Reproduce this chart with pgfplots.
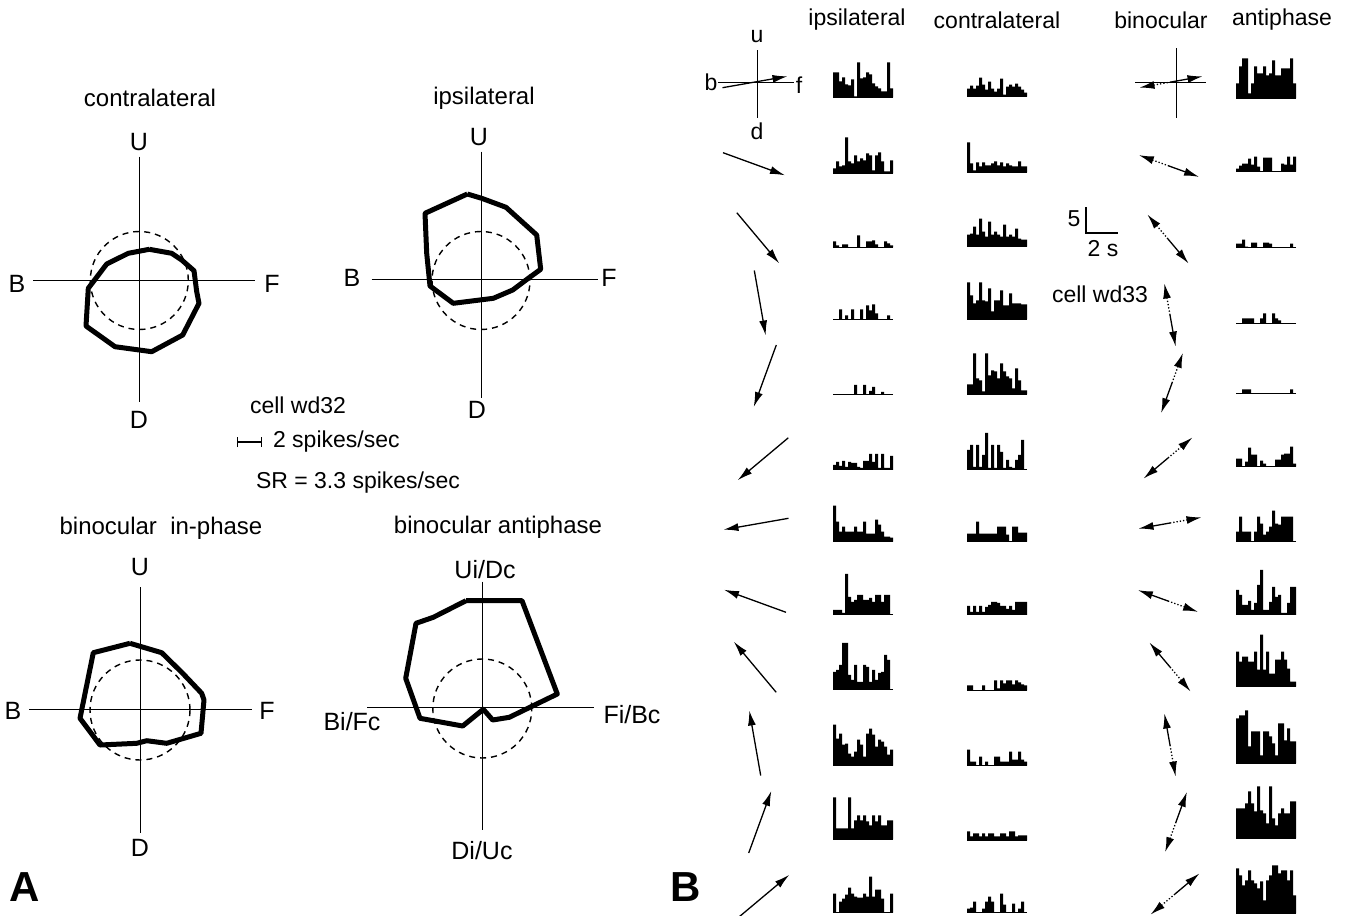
\documentclass[border=0pt]{standalone}
\usepackage{pgfplots}
\pgfplotsset{compat=1.18}
\usepackage{fontspec}
\setmainfont{Liberation Sans}
\usetikzlibrary{arrows.meta}

\pgfplotsset{histax/.style={anchor=south west, scale only axis, x=1.5pt, y=0.5pt,
  xmin=0, xmax=20, ymin=0, ymax=60, hide axis, clip=false}}
% #1 = left edge (px), #2 = baseline (px), #3 = bin heights (px)
\newcommand{\hist}[3]{%
\begin{axis}[histax, at={({#1*0.5pt},{(916-#2)*0.5pt})}]
\addplot[ybar interval, fill=black, draw=none] table[x expr=\coordindex, y=h, row sep=\\] {h\\#3\\0\\};
\addplot[black, line width=0.5pt] coordinates {(0,0) (20,0)};
\end{axis}}

\tikzset{
 tit/.style={font=\fontsize{12}{14}\selectfont},
 lab/.style={font=\fontsize{12.5}{14}\selectfont},
 txt/.style={font=\fontsize{11.5}{13}\selectfont},
 big/.style={font=\fontsize{21}{23}\selectfont\bfseries},
 arr/.style={black, line width=0.65pt, -{Latex[length=7.5pt,width=4pt]}},
 darr/.style={black, line width=0.65pt, densely dotted, -{Latex[length=7.5pt,width=4pt]}},
 ax/.style={black, line width=0.5pt},
 poly/.style={black, line width=2.5pt, line join=round},
 sr/.style={black, line width=0.7pt, dash pattern=on 3pt off 2.5pt}
}

\begin{document}
\begin{tikzpicture}
\begin{axis}[at={(0,0)}, anchor=south west, scale only axis, width=672.5pt, height=458pt,
  xmin=0, xmax=1345, ymin=0, ymax=916, y dir=reverse, hide axis, clip=false]

% ---------- Panel A: contralateral ----------
\node[tit] at (axis cs:150,98) {contralateral};
\addplot[ax] coordinates {(139.3,156.7) (139.3,401.7)};
\addplot[ax] coordinates {(33.3,280) (255,280)};
\node[lab] at (axis cs:139,142) {U};
\node[lab] at (axis cs:17,284) {B};
\node[lab] at (axis cs:272,284) {F};
\node[lab] at (axis cs:139,420) {D};
\draw[sr] (axis cs:139.3,280.5) circle[radius=24.5pt];
\addplot[poly] coordinates {(149.3,249.3) (171.7,253.3) (181.7,260) (194,270.7) (196.7,291.7) (199,303.3) (182.7,335) (151.7,351.7) (115,346.7) (86,326) (88.3,288.3) (106.7,264) (128.3,253.3) (149.3,249.3)};

% ---------- Panel A: ipsilateral ----------
\node[tit] at (axis cs:484,98) {ipsilateral};
\addplot[ax] coordinates {(481,151.7) (481,398.3)};
\addplot[ax] coordinates {(371.7,279.3) (598.3,279.3)};
\node[lab] at (axis cs:479,137) {U};
\node[lab] at (axis cs:352,278) {B};
\node[lab] at (axis cs:609,278) {F};
\node[lab] at (axis cs:477,410) {D};
\draw[sr] (axis cs:481,280.5) circle[radius=24.5pt];
\addplot[poly] coordinates {(467.3,194) (481.7,198.3) (506,207.3) (536.7,235) (540.7,269.3) (528.3,278.3) (512.7,290) (493.3,298.3) (453.3,303.3) (430,286) (426.7,253.3) (425,213.3) (467.3,194)};

% ---------- Panel A: legend text ----------
\node[txt] at (axis cs:298,405) {cell wd32};
\addplot[black, line width=0.6pt, {Bar[width=5pt]}-{Bar[width=5pt]}] coordinates {(237,442) (262,442)};
\node[txt, anchor=west] at (axis cs:266,442) {2 spikes/sec};
\node[txt] at (axis cs:358,483) {SR = 3.3 spikes/sec};

% ---------- Panel A: binocular in-phase ----------
\node[tit] at (axis cs:161,528) {binocular\ \ in-phase};
\addplot[ax] coordinates {(140.7,587.3) (140.7,833.3)};
\addplot[ax] coordinates {(29.3,709.3) (251.7,709.3)};
\node[lab] at (axis cs:140,567) {U};
\node[lab] at (axis cs:13,711) {B};
\node[lab] at (axis cs:267,711) {F};
\node[lab] at (axis cs:140,848) {D};
\draw[sr] (axis cs:140,710) circle[radius=25pt];
\addplot[poly] coordinates {(130,643.3) (161.7,652.7) (182.7,673.3) (201.7,693.3) (204,700) (201,733.3) (166.7,743.3) (146.7,740.7) (136.7,743.3) (100,745) (80,718.3) (93.3,652.7) (130,643.3)};

% ---------- Panel A: binocular antiphase ----------
\node[tit] at (axis cs:498,527) {binocular antiphase};
\addplot[ax] coordinates {(482.3,581.7) (482.3,830)};
\addplot[ax] coordinates {(367.3,707.3) (594,707.3)};
\node[lab] at (axis cs:485,570) {Ui/Dc};
\node[lab] at (axis cs:352,722) {Bi/Fc};
\node[lab] at (axis cs:632,715) {Fi/Bc};
\node[lab] at (axis cs:482,851) {Di/Uc};
\draw[sr] (axis cs:482.3,708.5) circle[radius=24.75pt];
\addplot[poly] coordinates {(466,600.7) (522,600.7) (557.3,694) (509.3,717.3) (492.7,720) (483.3,709.3) (462.7,726) (420,718.3) (405.7,678.3) (416,623.3) (433.3,617.3) (466,600.7)};

\node[big] at (axis cs:25,887) {A};
\node[big] at (axis cs:686,887) {B};

% ---------- Panel B: headers ----------
\node[txt] at (axis cs:857,20) {ipsilateral};
\node[txt] at (axis cs:997,20) {contralateral};
\node[txt] at (axis cs:1161,20) {binocular};
\node[txt] at (axis cs:1282,20) {antiphase};

% direction key
\addplot[ax] coordinates {(757,50) (757,118)};
\addplot[ax] coordinates {(718,82) (794,82)};
\node[txt] at (axis cs:757,37) {u};
\node[txt] at (axis cs:711,82) {b};
\node[txt] at (axis cs:799,85) {f};
\node[txt] at (axis cs:757,131) {d};
\addplot[ax] coordinates {(1176,48) (1176,118)};
\addplot[ax] coordinates {(1135,82) (1206,82)};

% monocular stimulus directions
\addplot[arr] coordinates {(722.5,87.7) (787.5,76.3)};
\addplot[arr] coordinates {(723,152.7) (785,175.3)};
\addplot[arr] coordinates {(736.8,212.7) (779.2,263.3)};
\addplot[arr] coordinates {(754.3,270.5) (765.7,335.5)};
\addplot[arr] coordinates {(776.3,345) (753.7,407)};
\addplot[arr] coordinates {(788.3,437.8) (737.7,480.2)};
\addplot[arr] coordinates {(788.5,518.3) (723.5,529.7)};
\addplot[arr] coordinates {(786,612.3) (724,589.7)};
\addplot[arr] coordinates {(776.2,692.3) (733.8,641.7)};
\addplot[arr] coordinates {(760.7,775.5) (749.3,710.5)};
\addplot[arr] coordinates {(748.7,853) (771.3,791)};
\addplot[arr] coordinates {(738.7,917.2) (789.3,874.8)};

% binocular antiphase directions (solid = ipsi, dotted = contra)
\addplot[arr] coordinates {(1171,82) (1202.5,76.4)};
\addplot[darr] coordinates {(1171,82) (1139.5,87.6)};
\addplot[arr] coordinates {(1169,166) (1199.1,176.9)};
\addplot[darr] coordinates {(1169,166) (1138.9,155.1)};
\addplot[arr] coordinates {(1168,239) (1188.6,263.5)};
\addplot[darr] coordinates {(1168,239) (1147.4,214.5)};
\addplot[arr] coordinates {(1170,315) (1175.6,346.5)};
\addplot[darr] coordinates {(1170,315) (1164.4,283.5)};
\addplot[arr] coordinates {(1172,383) (1161.1,413.1)};
\addplot[darr] coordinates {(1172,383) (1182.9,352.9)};
\addplot[arr] coordinates {(1168,458) (1143.5,478.6)};
\addplot[darr] coordinates {(1168,458) (1192.5,437.4)};
\addplot[arr] coordinates {(1170,523) (1138.5,528.6)};
\addplot[darr] coordinates {(1170,523) (1201.5,517.4)};
\addplot[arr] coordinates {(1168,601) (1137.9,590.1)};
\addplot[darr] coordinates {(1168,601) (1198.1,611.9)};
\addplot[arr] coordinates {(1170,667) (1149.4,642.5)};
\addplot[darr] coordinates {(1170,667) (1190.6,691.5)};
\addplot[arr] coordinates {(1170,745) (1164.4,713.5)};
\addplot[darr] coordinates {(1170,745) (1175.6,776.5)};
\addplot[arr] coordinates {(1176,822) (1186.9,791.9)};
\addplot[darr] coordinates {(1176,822) (1165.1,852.1)};
\addplot[arr] coordinates {(1175,894) (1199.5,873.4)};
\addplot[darr] coordinates {(1175,894) (1150.5,914.6)};

% scale bar
\addplot[black, line width=0.6pt] coordinates {(1086,207) (1086,233) (1118,233)};
\node[txt] at (axis cs:1074,219) {5};
\node[txt] at (axis cs:1103,249) {2 s};
\node[txt] at (axis cs:1100,294) {cell wd33};
\end{axis}

% ---------- ipsilateral PSTHs ----------
\hist{833}{97.5}{25\\25\\16\\20\\13\\12\\18\\1\\35\\19\\20\\25\\23\\14\\11\\9\\6\\6\\35\\9}
\hist{833}{173.3}{5\\12\\7\\8\\36\\12\\10\\18\\12\\15\\13\\20\\18\\3\\18\\21\\12\\2\\2\\13}
\hist{833}{247.3}{6\\2\\0\\3\\3\\0\\0\\0\\12\\0\\0\\6\\6\\7\\3\\0\\0\\6\\4\\2}
\hist{833}{319.3}{0\\0\\10\\0\\4\\0\\10\\0\\0\\10\\0\\14\\9\\15\\6\\0\\0\\0\\4\\0}
\hist{833}{395}{0\\0\\0\\0\\0\\0\\0\\10\\0\\0\\10\\0\\4\\8\\0\\0\\3\\0\\0\\0}
\hist{833}{470}{5\\8\\4\\9\\3\\8\\7\\7\\3\\2\\9\\9\\16\\8\\16\\2\\16\\2\\2\\14}
\hist{833}{541.7}{36\\20\\10\\15\\10\\10\\10\\15\\10\\10\\20\\8\\8\\8\\22\\17\\10\\5\\5\\4}
\hist{833}{615}{5\\5\\5\\2\\41\\18\\13\\15\\20\\20\\15\\15\\17\\13\\20\\20\\13\\20\\20\\0}
\hist{833}{690}{18\\20\\25\\47\\47\\15\\10\\25\\8\\8\\25\\23\\8\\20\\10\\17\\18\\35\\30\\0}
\hist{833}{765.7}{41\\27\\32\\21\\22\\12\\9\\14\\26\\21\\9\\32\\37\\31\\19\\26\\24\\19\\11\\16}
\hist{833}{839.3}{42\\11\\11\\11\\11\\42\\11\\19\\24\\19\\24\\18\\14\\24\\18\\24\\14\\14\\19\\19}
\hist{833}{912.7}{19\\0\\11\\14\\18\\25\\19\\16\\15\\15\\19\\16\\36\\16\\23\\23\\14\\0\\0\\19}

% ---------- contralateral PSTHs ----------
\hist{967}{96.7}{8\\11\\8\\11\\19\\12\\7\\15\\8\\5\\8\\18\\2\\10\\12\\10\\13\\10\\7\\4}
\hist{967}{172.3}{30\\9\\2\\10\\6\\10\\7\\7\\9\\11\\7\\10\\6\\9\\7\\6\\6\\11\\6\\6}
\hist{967}{246.7}{12\\13\\20\\12\\28\\15\\10\\25\\12\\15\\12\\10\\22\\10\\12\\10\\18\\8\\7\\7}
\hist{967}{319.3}{37\\24\\16\\19\\37\\19\\18\\31\\8\\19\\19\\29\\14\\14\\26\\16\\16\\16\\15\\15}
\hist{967}{394.3}{10\\10\\41\\16\\14\\3\\41\\19\\24\\23\\16\\31\\23\\18\\16\\6\\26\\14\\4\\4}
\hist{967}{470}{20\\25\\3\\25\\3\\15\\37\\2\\25\\2\\25\\18\\2\\10\\3\\2\\10\\15\\30\\0}
\hist{967}{541.7}{8\\8\\8\\20\\8\\8\\8\\8\\8\\8\\15\\15\\15\\7\\0\\15\\15\\9\\9\\9}
\hist{967}{615}{9\\3\\9\\3\\9\\3\\8\\10\\13\\13\\12\\9\\9\\6\\9\\5\\13\\13\\13\\13}
\hist{967}{690.3}{5\\5\\0\\0\\0\\5\\0\\0\\0\\10\\2\\10\\7\\10\\10\\6\\10\\8\\6\\5}
\hist{967}{765.7}{16\\4\\4\\0\\9\\0\\4\\0\\0\\9\\9\\4\\4\\4\\14\\6\\6\\14\\6\\4}
\hist{967}{840.3}{9\\4\\7\\7\\4\\7\\4\\7\\7\\4\\4\\7\\7\\4\\9\\9\\4\\5\\5\\5}
\hist{967}{912.7}{4\\5\\11\\0\\0\\4\\11\\16\\11\\0\\0\\19\\8\\0\\0\\9\\0\\4\\11\\0}

% ---------- binocular antiphase PSTHs ----------
\hist{1236}{98.3}{15\\32\\40\\40\\5\\15\\32\\25\\25\\32\\23\\25\\38\\23\\23\\30\\30\\30\\40\\15}
\hist{1236}{171.7}{3\\6\\8\\8\\13\\7\\15\\5\\0\\14\\14\\14\\0\\0\\0\\8\\7\\15\\7\\15}
\hist{1236}{247.7}{4\\4\\8\\1\\0\\5\\5\\0\\0\\5\\5\\4\\0\\0\\0\\0\\0\\0\\4\\0}
\hist{1236}{323.3}{0\\0\\5\\5\\5\\5\\0\\0\\5\\10\\0\\0\\10\\5\\3\\0\\0\\0\\0\\0}
\hist{1236}{393.3}{0\\0\\4\\4\\4\\0\\0\\0\\0\\0\\0\\0\\0\\0\\0\\0\\0\\0\\4\\0}
\hist{1236}{466.7}{8\\8\\0\\5\\19\\12\\12\\0\\6\\3\\0\\0\\0\\7\\7\\12\\13\\13\\20\\3}
\hist{1236}{541.7}{10\\25\\10\\10\\10\\0\\10\\25\\18\\7\\10\\15\\31\\18\\17\\25\\25\\25\\25\\0}
\hist{1236}{615}{25\\20\\10\\10\\14\\5\\12\\30\\45\\5\\5\\13\\28\\18\\20\\2\\2\\12\\28\\28}
\hist{1236}{686.7}{35\\25\\30\\30\\25\\25\\35\\17\\52\\17\\35\\13\\13\\27\\27\\35\\27\\18\\5\\5}
\hist{1236}{763.3}{45\\48\\48\\53\\17\\32\\32\\32\\8\\32\\32\\27\\20\\8\\40\\40\\23\\35\\22\\22}
\hist{1236}{838.3}{30\\30\\30\\35\\47\\35\\27\\52\\28\\25\\15\\52\\20\\13\\25\\30\\25\\25\\37\\37}
\hist{1236}{913.3}{45\\38\\28\\33\\43\\33\\30\\25\\32\\13\\33\\38\\48\\48\\40\\43\\43\\33\\43\\18}

\pgfresetboundingbox
\path[use as bounding box] (0,0) rectangle (672.5pt,458pt);
\end{tikzpicture}
\end{document}
